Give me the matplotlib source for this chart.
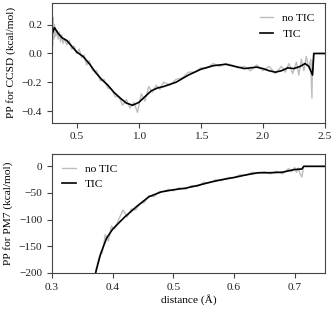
import matplotlib
matplotlib.use('Agg')
import matplotlib.pyplot as plt
import numpy as np

plt.rcParams['font.family'] = ['Liberation Serif', 'DejaVu Serif']
plt.rcParams['font.size'] = 8.2
plt.rcParams['mathtext.fontset'] = 'stix'

# CCSD panel
ccsd_tic_x = [0.30, 0.32, 0.35, 0.38, 0.42, 0.46, 0.50, 0.55, 0.60, 0.65, 0.70, 0.75, 0.80,
              0.85, 0.90, 0.95, 1.00, 1.05, 1.10, 1.15, 1.20, 1.30, 1.40, 1.50, 1.60, 1.70,
              1.80, 1.85, 1.90, 1.95, 2.00, 2.05, 2.10, 2.15, 2.20, 2.25, 2.30, 2.34, 2.37,
              2.40, 2.41, 2.50]
ccsd_tic_y = [0.13, 0.18, 0.14, 0.11, 0.09, 0.05, 0.01, -0.02, -0.07, -0.13, -0.18, -0.22, -0.27,
              -0.31, -0.345, -0.36, -0.34, -0.30, -0.26, -0.24, -0.23, -0.20, -0.15, -0.11, -0.085,
              -0.075, -0.095, -0.105, -0.10, -0.095, -0.105, -0.12, -0.13, -0.12, -0.10, -0.105,
              -0.09, -0.07, -0.09, -0.15, 0.0, 0.0]
ccsd_notic_x = [0.30, 0.305, 0.31, 0.315, 0.32, 0.33, 0.34, 0.35, 0.36, 0.37, 0.38, 0.39, 0.40,
                0.42, 0.44, 0.46, 0.48, 0.50, 0.52, 0.54, 0.56, 0.58, 0.60, 0.63, 0.66, 0.69,
                0.72, 0.75, 0.78, 0.81, 0.84, 0.87, 0.90, 0.93, 0.96, 0.99, 1.02, 1.05, 1.08,
                1.11, 1.14, 1.17, 1.20, 1.25, 1.30, 1.35, 1.40, 1.45, 1.50, 1.55, 1.60, 1.65,
                1.70, 1.75, 1.80, 1.85, 1.90, 1.95, 2.00, 2.05, 2.10, 2.15, 2.18, 2.21, 2.24,
                2.27, 2.29, 2.31, 2.33, 2.35, 2.37, 2.385, 2.395, 2.40, 2.405, 2.41, 2.50]
ccsd_notic_y = [0.32, 0.05, 0.25, 0.10, 0.20, 0.12, 0.16, 0.10, 0.15, 0.08, 0.13, 0.07, 0.10,
                0.06, 0.09, 0.03, 0.05, 0.0, 0.03, -0.03, -0.01, -0.08, -0.05, -0.12, -0.12,
                -0.19, -0.18, -0.24, -0.25, -0.30, -0.30, -0.36, -0.32, -0.38, -0.34, -0.41, -0.28,
                -0.33, -0.23, -0.27, -0.22, -0.25, -0.20, -0.22, -0.18, -0.17, -0.13, -0.13, -0.10,
                -0.10, -0.07, -0.09, -0.07, -0.08, -0.10, -0.09, -0.12, -0.08, -0.12, -0.09, -0.14,
                -0.09, -0.13, -0.07, -0.14, -0.06, -0.15, -0.04, -0.12, -0.02, -0.10, -0.04,
                -0.31, -0.05, -0.12, 0.0, 0.0]

# PM7 panel
pm7_tic_x = [0.372, 0.38, 0.39, 0.40, 0.42, 0.44, 0.46, 0.48, 0.50, 0.52, 0.54, 0.56, 0.58,
             0.60, 0.62, 0.64, 0.66, 0.68, 0.70, 0.712, 0.715, 0.75]
pm7_tic_y = [-200, -165, -135, -118, -95, -75, -57, -48, -44, -41, -36, -30, -25, -21, -16,
             -12, -12, -11, -6, -5, 0, 0]
pm7_notic_x = [0.372, 0.378, 0.383, 0.388, 0.393, 0.398, 0.403, 0.41, 0.417, 0.424, 0.431,
               0.438, 0.445, 0.452, 0.46, 0.468, 0.476, 0.484, 0.492, 0.50, 0.51, 0.52, 0.53,
               0.54, 0.55, 0.56, 0.57, 0.58, 0.59, 0.60, 0.61, 0.62, 0.63, 0.64, 0.65, 0.66,
               0.67, 0.68, 0.69, 0.695, 0.70, 0.703, 0.706, 0.709, 0.712, 0.715, 0.75]
pm7_notic_y = [-195, -170, -162, -128, -140, -112, -118, -100, -82, -95, -80, -82, -70, -68,
               -55, -57, -48, -47, -43, -46, -40, -43, -36, -38, -30, -31, -25, -27, -21, -21,
               -16, -17, -11, -13, -10, -14, -9, -14, -4, -10, -2, -11, -3, -14, -20, 0, 0]

fig, (ax1, ax2) = plt.subplots(2, 1, figsize=(3.35, 3.13), dpi=100)
fig.subplots_adjust(left=0.155, right=0.97, top=0.99, bottom=0.128, hspace=0.26)

ax1.plot(ccsd_notic_x, ccsd_notic_y, color='#bdbdbd', lw=1.0, label='no TIC')
ax1.plot(ccsd_tic_x, ccsd_tic_y, color='black', lw=1.2, label='TIC')
ax1.set_xlim(0.3, 2.5)
ax1.set_ylim(-0.48, 0.35)
ax1.set_yticks([-0.4, -0.2, 0.0, 0.2])
ax1.set_xticks([0.5, 1.0, 1.5, 2.0, 2.5])
ax1.set_ylabel('PP for CCSD (kcal/mol)')
ax1.legend(loc='upper right', frameon=False, handlelength=1.2)

ax2.plot(pm7_notic_x, pm7_notic_y, color='#bdbdbd', lw=1.0, label='no TIC')
ax2.plot(pm7_tic_x, pm7_tic_y, color='black', lw=1.2, label='TIC')
ax2.set_xlim(0.3, 0.75)
ax2.set_ylim(-200, 24)
ax2.set_yticks([-200, -150, -100, -50, 0])
ax2.set_xticks([0.3, 0.4, 0.5, 0.6, 0.7])
ax2.set_ylabel('PP for PM7 (kcal/mol)')
ax2.set_xlabel('distance (Å)', labelpad=2)
ax2.legend(loc='upper left', frameon=False, handlelength=1.2)

for ax in (ax1, ax2):
    for s in ax.spines.values():
        s.set_color('#444444')
    ax.tick_params(colors='#444444', labelcolor='#222222')

plt.savefig('out.png', dpi=100)
